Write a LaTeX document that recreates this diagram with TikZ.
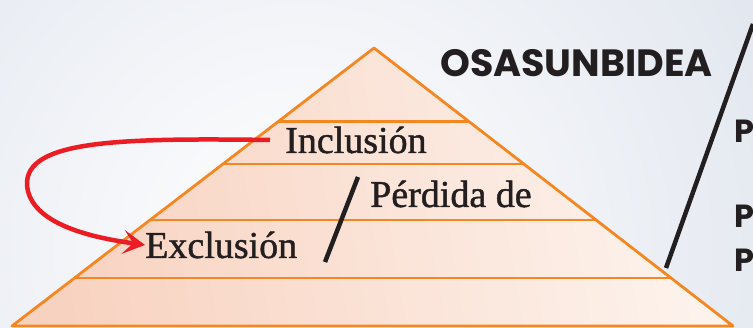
\documentclass[tikz,border=0pt]{standalone}
\usepackage{fontspec}
\setmainfont{Liberation Serif}
\newfontfamily\levelfont[FakeBold=1.2]{Liberation Serif}
\newfontfamily\titlefont{Poppins}
\usepackage{tikz}
\usetikzlibrary{arrows.meta}
\usetikzlibrary{calc}

\definecolor{pyrorange}{RGB}{245,135,35}
\definecolor{peachdark}{RGB}{248,210,192}
\definecolor{peachlight}{RGB}{253,244,238}
\definecolor{arrowred}{RGB}{235,28,36}
\definecolor{inkgrey}{RGB}{35,31,32}
\definecolor{bgblue}{RGB}{224,229,238}
\definecolor{bgmint}{RGB}{236,245,239}

\begin{document}
\begin{tikzpicture}[x=1pt,y=-1pt,
  tier line/.style={draw=pyrorange,line width=2.8pt,line join=round},
  level node/.style={inner sep=0pt,anchor=base west,text=inkgrey,font=\levelfont\fontsize{38}{40}\selectfont},
  title node/.style={inner sep=0pt,anchor=base west,text=inkgrey,font=\titlefont\bfseries\fontsize{38}{40}\selectfont},
  side node/.style={inner sep=0pt,anchor=base west,text=inkgrey,font=\titlefont\bfseries\fontsize{32}{34}\selectfont},
  slash/.style={draw=inkgrey,line width=4.5pt}]

  \useasboundingbox (0,0) rectangle (753,328);
  % background
  \begin{scope}
    \clip (0,0) rectangle (753,328);
    \shade[inner color=white,middle color=bgmint,outer color=bgblue] (300,250) circle (560);
  \end{scope}

  % pyramid
  \coordinate (A) at (374,48);
  \coordinate (L) at (12,326);
  \coordinate (R) at (733,326);
  \shade[left color=peachdark,right color=peachlight,shading angle=100] (A) -- (L) -- (R) -- cycle;
  \foreach \t in {0.263,0.417,0.619,0.827}
    \draw[tier line] ($(A)!\t!(L)$) -- ($(A)!\t!(R)$);
  \draw[tier line] (A) -- (L) -- (R) -- cycle;

  \node[level node] (incl) at (285,153) {Inclusión};
  \node[level node] (perd) at (370,207) {Pérdida de};
  \node[level node] (excl) at (145,258) {Exclusión};

  \node[title node] (osas) at (440,77) {OSASUNBIDEA};
  \node[side node] (p1) at (734,143) {P};
  \node[side node] (p2) at (734,228) {P};
  \node[side node] (p3) at (734,272) {P};

  % slashes
  \draw[slash] (358,177) -- (325,262);
  \draw[slash] (666,268) -- (753,24);

  % red arrow
  \draw[arrowred,line width=4.5pt,-{Stealth[length=22pt,width=24pt,inset=10pt]}]
    ([xshift=-15pt]incl.west) .. controls (120,138) and (25,140) .. (27,185)
    .. controls (30,225) and (95,238) .. (excl.west);
\end{tikzpicture}
\end{document}
